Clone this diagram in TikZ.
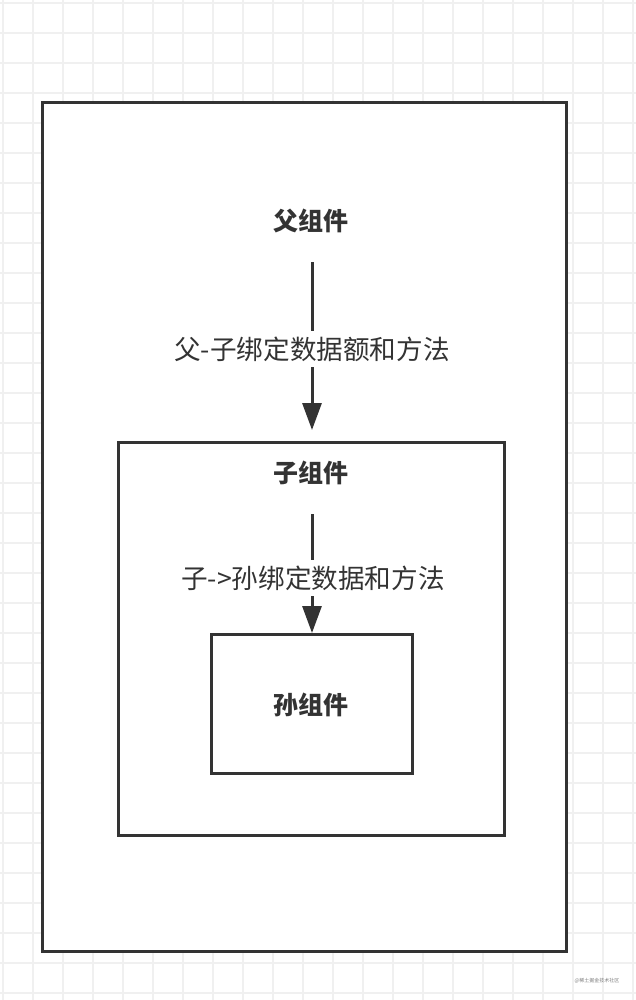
\documentclass[tikz,border=0pt]{standalone}
\usepackage{fontspec}
\newfontfamily\cjk{Noto Sans CJK SC}
\usetikzlibrary{arrows.meta}
\definecolor{ink}{HTML}{333333}
\definecolor{gridc}{HTML}{F0F0F0}
\tikzset{
  box/.style={draw=ink, line width=3pt, fill=white, inner sep=0pt},
  title/.style={text=ink, font=\cjk\bfseries\fontsize{25}{30}\selectfont, inner sep=0pt},
  lbl/.style={text=ink, fill=white, font=\cjk\fontsize{26.6}{31}\selectfont, inner xsep=1pt, inner ysep=6pt},
  arr/.style={draw=ink, line width=3pt, -{Triangle[length=27pt,width=19pt]}},
}
\begin{document}
\begin{tikzpicture}[x=1pt,y=-1pt]
\useasboundingbox (0,0) rectangle (636,1000);
\fill[white] (0,0) rectangle (636,1000);
% grid
\foreach \i in {0,...,21} {\draw[gridc, line width=1.6pt] (3+30*\i,0) -- (3+30*\i,1000);}
\foreach \j in {0,...,33} {\draw[gridc, line width=1.6pt] (0,3+30*\j) -- (636,3+30*\j);}
% boxes
\node[box, minimum width=524pt, minimum height=848pt] (outer) at (304,527) {};
\node[box, minimum width=386pt, minimum height=393pt] (inner) at (311,638.5) {};
\node[box, minimum width=201pt, minimum height=139pt] (inmost) at (311.5,703.5) {};
% titles
\node[title] (tparent) at (311,221) {父组件};
\node[title] (tchild) at (311,473) {子组件};
\node[title] (tgrand) at (311,705) {孙组件};
% arrows
\coordinate (a1s) at (312,262);
\coordinate (a1e) at (312,430);
\coordinate (a2s) at (312,514);
\coordinate (a2e) at (312,633);
\draw[arr] (a1s) -- (a1e);
\draw[arr] (a2s) -- (a2e);
\node[lbl] (l1) at (312,349) {父-子绑定数据额和方法};
\node[lbl] (l2) at (313,578) {子->孙绑定数据和方法};
% watermark
\node[text=gray, font=\cjk\fontsize{5}{6}\selectfont, inner sep=0pt] (wm) at (597,981) {@稀土掘金技术社区};
\end{tikzpicture}
\end{document}
